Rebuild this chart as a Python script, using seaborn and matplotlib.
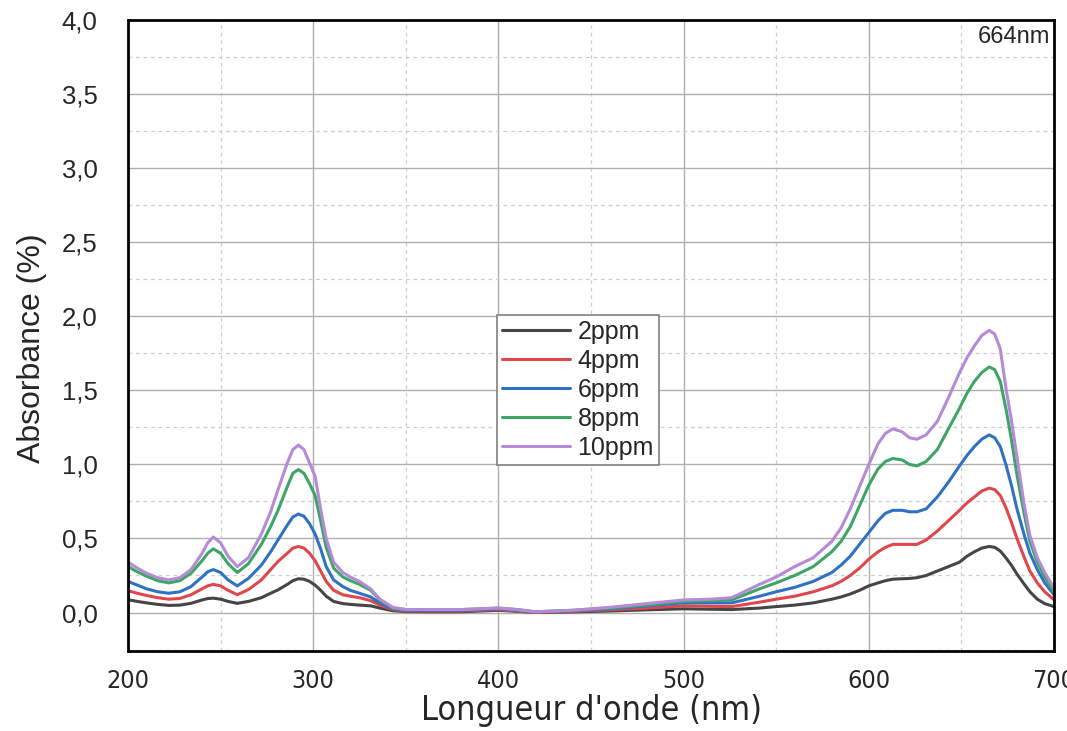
import numpy as np
import pandas as pd
import matplotlib
matplotlib.use("Agg")
import matplotlib.pyplot as plt
from matplotlib import font_manager
from matplotlib.ticker import MultipleLocator, FuncFormatter
import seaborn as sns

wavelength = [200, 205, 210, 216, 222, 228, 234, 240, 243, 246,
              250, 254, 259, 265, 272, 277, 281, 286, 289, 292,
              295, 298, 301, 304, 307, 311, 316, 320, 325, 331,
              336, 343, 350, 360, 380, 400, 410, 420, 440, 460,
              480, 500, 515, 526, 541, 550, 560, 570, 580, 585,
              590, 595, 600, 605, 609, 613, 618, 622, 626, 631,
              637, 643, 649, 653, 657, 661, 665, 668, 671, 674,
              677, 680, 684, 687, 691, 695, 700]

a_10ppm = [0.34, 0.30, 0.265, 0.235, 0.22, 0.235, 0.29, 0.40, 0.47, 0.51,
           0.47, 0.38, 0.31, 0.37, 0.53, 0.68, 0.83, 1.01, 1.10, 1.13,
           1.10, 1.01, 0.92, 0.70, 0.50, 0.34, 0.27, 0.24, 0.21, 0.16,
           0.09, 0.035, 0.02, 0.02, 0.02, 0.03, 0.02, 0.005, 0.015, 0.035,
           0.06, 0.085, 0.09, 0.10, 0.19, 0.24, 0.31, 0.37, 0.48, 0.57,
           0.70, 0.85, 1.00, 1.14, 1.21, 1.24, 1.22, 1.18, 1.17, 1.20,
           1.29, 1.45, 1.62, 1.72, 1.80, 1.87, 1.905, 1.88, 1.78, 1.52,
           1.30, 1.05, 0.72, 0.52, 0.37, 0.27, 0.165]
a_8ppm = [0.31, 0.275, 0.245, 0.215, 0.20, 0.215, 0.265, 0.35, 0.40, 0.43,
          0.40, 0.33, 0.27, 0.33, 0.46, 0.58, 0.69, 0.85, 0.94, 0.965,
          0.94, 0.87, 0.79, 0.62, 0.44, 0.30, 0.24, 0.215, 0.19, 0.15,
          0.085, 0.03, 0.02, 0.02, 0.02, 0.03, 0.02, 0.005, 0.015, 0.03,
          0.05, 0.075, 0.08, 0.085, 0.16, 0.20, 0.25, 0.31, 0.41, 0.48,
          0.58, 0.72, 0.86, 0.97, 1.02, 1.04, 1.03, 1.00, 0.99, 1.02,
          1.10, 1.24, 1.38, 1.48, 1.56, 1.62, 1.658, 1.64, 1.56, 1.38,
          1.17, 0.93, 0.66, 0.48, 0.34, 0.24, 0.14]
a_6ppm = [0.21, 0.185, 0.16, 0.14, 0.13, 0.14, 0.175, 0.24, 0.275, 0.29,
          0.27, 0.22, 0.18, 0.23, 0.32, 0.41, 0.49, 0.59, 0.645, 0.665,
          0.65, 0.60, 0.53, 0.43, 0.31, 0.22, 0.175, 0.15, 0.13, 0.105,
          0.065, 0.025, 0.015, 0.015, 0.015, 0.025, 0.015, 0.003, 0.012, 0.025,
          0.045, 0.065, 0.065, 0.065, 0.11, 0.14, 0.17, 0.21, 0.27, 0.32,
          0.38, 0.46, 0.54, 0.62, 0.67, 0.69, 0.69, 0.68, 0.68, 0.70,
          0.78, 0.88, 0.99, 1.06, 1.12, 1.17, 1.199, 1.18, 1.12, 1.00,
          0.86, 0.70, 0.52, 0.40, 0.29, 0.20, 0.12]
a_4ppm = [0.147, 0.13, 0.115, 0.10, 0.09, 0.095, 0.12, 0.16, 0.18, 0.19,
          0.18, 0.15, 0.12, 0.155, 0.22, 0.29, 0.345, 0.40, 0.435, 0.446,
          0.435, 0.40, 0.35, 0.28, 0.21, 0.15, 0.12, 0.11, 0.10, 0.08,
          0.05, 0.02, 0.01, 0.01, 0.01, 0.02, 0.01, 0.0, 0.008, 0.018,
          0.03, 0.045, 0.042, 0.04, 0.07, 0.09, 0.11, 0.14, 0.18, 0.21,
          0.25, 0.30, 0.36, 0.41, 0.44, 0.46, 0.46, 0.46, 0.46, 0.49,
          0.55, 0.62, 0.69, 0.74, 0.78, 0.82, 0.84, 0.83, 0.79, 0.71,
          0.61, 0.50, 0.37, 0.28, 0.20, 0.14, 0.086]
a_2ppm = [0.086, 0.075, 0.065, 0.055, 0.048, 0.05, 0.062, 0.085, 0.094, 0.097,
          0.09, 0.075, 0.062, 0.075, 0.10, 0.13, 0.153, 0.19, 0.215, 0.228,
          0.225, 0.21, 0.185, 0.15, 0.11, 0.075, 0.06, 0.055, 0.05, 0.045,
          0.03, 0.012, 0.006, 0.005, 0.005, 0.015, 0.008, 0.0, 0.004, 0.01,
          0.018, 0.025, 0.022, 0.02, 0.03, 0.04, 0.05, 0.065, 0.09, 0.105,
          0.125, 0.15, 0.18, 0.20, 0.215, 0.225, 0.228, 0.23, 0.235, 0.25,
          0.28, 0.31, 0.34, 0.38, 0.41, 0.435, 0.446, 0.44, 0.415, 0.37,
          0.32, 0.26, 0.19, 0.14, 0.09, 0.06, 0.04]

series_names = ["2ppm", "4ppm", "6ppm", "8ppm", "10ppm"]
series_values = [a_2ppm, a_4ppm, a_6ppm, a_8ppm, a_10ppm]
series_colors = ["#454545", "#e0474c", "#2f72c4", "#3da565", "#b58ad9"]
x_ticks = [200, 300, 400, 500, 600, 700]
y_ticks = [0.0, 0.5, 1.0, 1.5, 2.0, 2.5, 3.0, 3.5, 4.0]

df = pd.concat([pd.DataFrame({"wl": wavelength, "abs": v, "conc": n})
                for n, v in zip(series_names, series_values)], ignore_index=True)

sns.set_style("white")
plt.rcParams["font.family"] = ["Liberation Sans", "DejaVu Sans"]

installed = {f.name for f in font_manager.fontManager.ttflist}
if "Liberation Sans Narrow" in installed:
    narrow = dict(family=["Liberation Sans Narrow", "DejaVu Sans"], stretch="normal")
    narrow_scale = 1.12
else:
    narrow = dict(family=["DejaVu Sans"], stretch="condensed")
    narrow_scale = 1.0

fig = plt.figure(figsize=(10.67, 7.31), dpi=100)
ax = fig.add_axes([0.12, 0.1094, 0.8678, 0.8632])

sns.lineplot(data=df, x="wl", y="abs", hue="conc", hue_order=series_names,
             palette=dict(zip(series_names, series_colors)), linewidth=2.2, ax=ax, sort=True)

ax.set_xlim(200, 700)
ax.set_ylim(-0.26, 4.0)
ax.set_xticks(x_ticks)
ax.set_yticks(y_ticks)
ax.xaxis.set_minor_locator(MultipleLocator(50))
ax.yaxis.set_minor_locator(MultipleLocator(0.25))
ax.yaxis.set_major_formatter(FuncFormatter(lambda v, p: f"{v:.1f}".replace(".", ",")))
ax.grid(which="major", color="#b0b0b0", linewidth=1.0, linestyle="-")
ax.grid(which="minor", color="#cfcfcf", linewidth=0.9, linestyle=(0, (3, 3)))
ax.set_axisbelow(True)

ax.tick_params(axis="both", which="both", length=0)
ax.tick_params(axis="y", pad=22, labelsize=18.5)
ax.tick_params(axis="x", pad=13)
for lab in ax.get_xticklabels():
    lab.set_family(narrow["family"])
    lab.set_fontstretch(narrow["stretch"])
    lab.set_fontsize(18 * narrow_scale)

for s in ax.spines.values():
    s.set_color("black")
    s.set_linewidth(2.0)

ax.set_xlabel("Longueur d'onde (nm)", fontsize=24.5 * narrow_scale, labelpad=1,
              family=narrow["family"], fontstretch=narrow["stretch"])
ax.set_ylabel("Absorbance (%)", fontsize=23)
ax.yaxis.set_label_coords(-0.088, 0.48)

ax.text(0.996, 0.99, "664nm", transform=ax.transAxes, ha="right", va="top", fontsize=17)

leg = ax.legend(loc="upper left", bbox_to_anchor=(0.399, 0.533), fontsize=18,
                frameon=True, fancybox=False, edgecolor="#808080", framealpha=1,
                handlelength=2.7, handletextpad=0.3, borderpad=0.2, labelspacing=0.2,
                borderaxespad=0)
leg.get_frame().set_linewidth(1.2)
for line in leg.get_lines():
    line.set_linewidth(2.2)

fig.savefig("out.png", dpi=100)
